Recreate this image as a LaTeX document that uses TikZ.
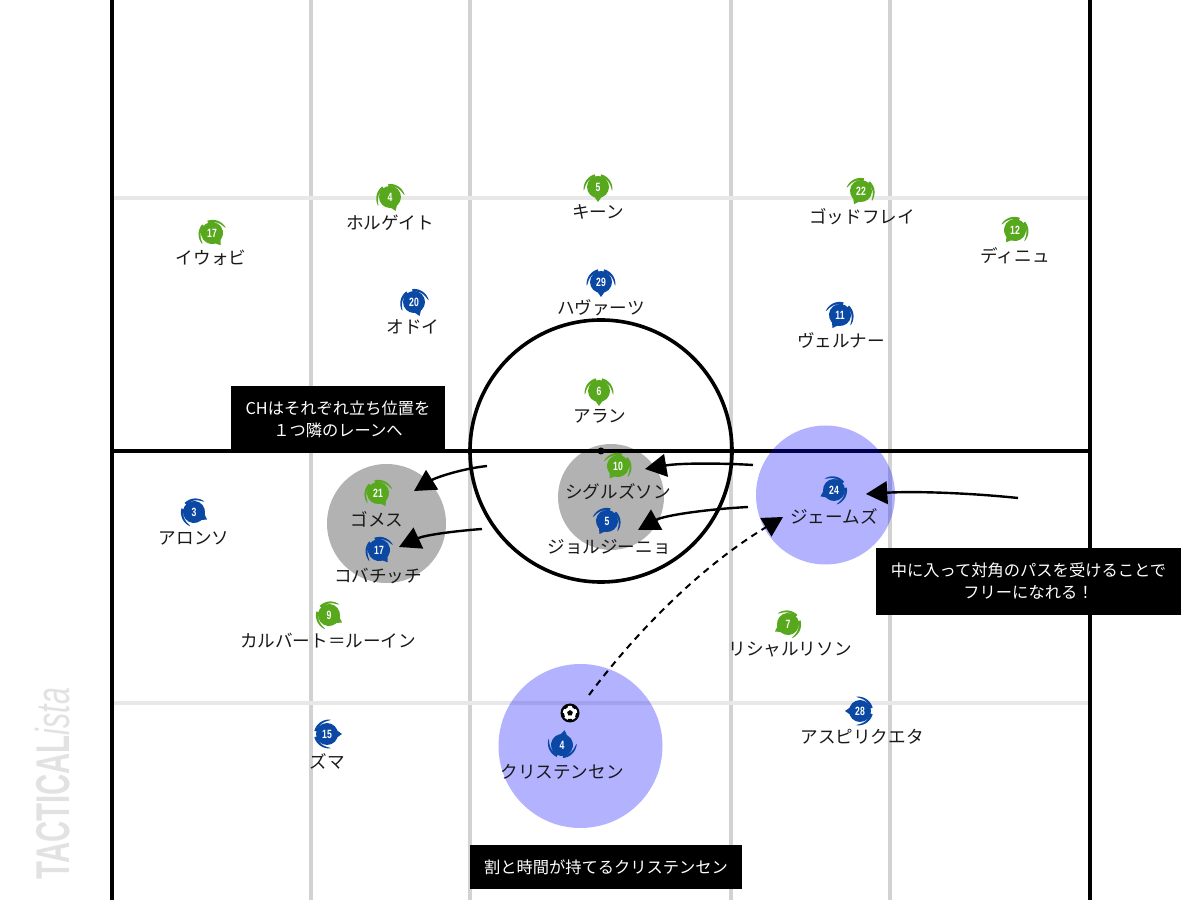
\documentclass[tikz,border=0pt]{standalone}
\usepackage{fontspec}
\setmainfont{Noto Sans CJK JP}
\newfontfamily\latfont{Liberation Sans}
\usetikzlibrary{arrows.meta}
\definecolor{grn}{HTML}{58A81E}
\definecolor{blu}{HTML}{0A48A4}
\definecolor{lane}{HTML}{D2D2D2}
\definecolor{thirdl}{HTML}{E8E8E8}
\definecolor{mark}{HTML}{E2E2E2}
\tikzset{
  x=0.75pt,y=0.75pt,
  fieldline/.style={black,line width=2.7pt},
  laneline/.style={lane,line width=3pt},
  thirdline/.style={thirdl,line width=2.4pt},
  greyzone/.style={fill=black,fill opacity=0.3},
  bluezone/.style={fill=blue,fill opacity=0.3},
  plabel/.style={font=\fontsize{13.2pt}{15pt}\selectfont,text=black!90,inner sep=0pt},
  pnum/.style={text=white,inner sep=0pt,font=\latfont\bfseries\fontsize{9pt}{10pt}\selectfont},
  note/.style={fill=black,text=white,align=center,inner sep=0pt,font=\fontsize{12.2pt}{16.5pt}\selectfont},
  runarrow/.style={black,line width=1.8pt,-{Triangle[length=16pt,width=17pt]}},
  passarrow/.style={black,line width=1.5pt,dash pattern=on 5pt off 4pt,-{Triangle[length=15pt,width=16pt]}}
}
% crescent on one side: tip at angle #1 (relative), back at angle #1 + 90*#2
\newcommand{\cres}[2]{%
  \fill plot[domain=0:1,samples=16] ({#1+#2*90*\x}:{13+1.8*(1-\x)*(1-\x)}) -- plot[domain=1:0.01,samples=16] ({#1+#2*90*\x}:{14.8-4.8*sqrt(\x)}) -- cycle;
}
\newcommand{\pl}[9]{%
  \begin{scope}[shift={(#2,{900-#3})},rotate=#6,#4]
    \cres{76}{1}
    \cres{-76}{-1}
    \fill (-20:10.5) -- (0:15) -- (20:10.5) -- cycle;
    \fill (0,0) circle[radius=11];
  \end{scope}
  \node[pnum] (n#1) at (#2,{900-#3}) {\scalebox{0.72}[1]{#5}};
  \node[plabel] (l#1) at (#7,{899-#8}) {#9};
}
\begin{document}
\begin{tikzpicture}
\useasboundingbox (0,0) rectangle (1200,900);
\fill[white] (0,0) rectangle (1200,900);
% field
\foreach \xx in {311,470,731,890} \draw[laneline] (\xx,0) -- (\xx,900);
\draw[thirdline] (112,702) -- (1090,702);
\draw[thirdline] (112,197) -- (1090,197);
\draw[fieldline] (112,449) -- (1090,449);
\draw[fieldline] (112,0) -- (112,900);
\draw[fieldline] (1090,0) -- (1090,900);
\draw[fieldline] (601,449) circle[radius=131];
\fill[black] (601,449) circle[radius=3.5];
% zones
\fill[greyzone] (386.5,376.5) circle[radius=59.5];
\fill[greyzone] (611,403) circle[radius=53];
\fill[bluezone] (825.5,405) circle[radius=69.5];
\fill[bluezone] (580.5,154) circle[radius=82];
% watermark
\node[rotate=90,anchor=west,inner sep=0pt,text=mark] (wm) at (53,20) {\latfont\fontsize{35.5pt}{36pt}\selectfont\scalebox{0.62}[1]{\bfseries TACTICAL}\scalebox{0.64}[1]{\itshape ista}};
% players
\pl{a}{212}{233}{grn}{17}{-55}{211}{257}{イウォビ}
\pl{b}{390}{197}{grn}{4}{-68}{390}{222}{ホルゲイト}
\pl{c}{598}{187}{grn}{5}{-90}{598}{211}{キーン}
\pl{d}{861}{191}{grn}{22}{-118}{862}{216}{ゴッドフレイ}
\pl{e}{1015}{230}{grn}{12}{-126}{1015}{255}{ディニュ}
\pl{f}{599}{391}{grn}{6}{-90}{600}{415}{アラン}
\pl{g}{618}{466}{grn}{10}{-124}{618}{491}{シグルズソン}
\pl{h}{378}{493}{grn}{21}{-60}{377}{518}{ゴメス}
\pl{i}{329}{615}{grn}{9}{-30}{328}{640}{カルバート＝ルーイン}
\pl{j}{788}{624}{grn}{7}{-150}{790}{649}{リシャルリソン}
\pl{k}{601}{282}{blu}{29}{-90}{601}{307}{ハヴァーツ}
\pl{m}{414}{302}{blu}{20}{-68}{413}{326}{オドイ}
\pl{o}{840}{315}{blu}{11}{-120}{841}{339}{ヴェルナー}
\pl{p}{194}{512}{blu}{3}{-30}{194}{537}{アロンソ}
\pl{q}{834}{490}{blu}{24}{-155}{834}{515}{ジェームズ}
\pl{r}{607}{521}{blu}{5}{-120}{609}{546}{ジョルジーニョ}
\pl{s}{379}{550}{blu}{17}{-55}{378}{575}{コバチッチ}
\pl{t}{327}{734}{blu}{15}{0}{327}{760}{ズマ}
\pl{u}{562}{745}{blu}{4}{80}{562}{771}{クリステンセン}
\pl{v}{860}{711}{blu}{28}{180}{862}{736}{アスピリクエタ}
% ball
\begin{scope}[shift={(570,187)}]
  \fill[black] (0,0) circle[radius=9.5];
  \fill[white] (0,0) circle[radius=7.2];
  \fill[black] (90:3) -- (162:3) -- (234:3) -- (306:3) -- (18:3) -- cycle;
  \foreach \a in {54,126,198,270,342} \fill[black] (\a-17:6.2) -- (\a+17:6.2) -- (\a+17:8) -- (\a-17:8) -- cycle;
\end{scope}
% notes
\node[note,minimum width=160.5pt,minimum height=49.5pt] (n1) at (338,481) {CHはそれぞれ立ち位置を\\１つ隣のレーンへ};
\node[note,minimum width=228.75pt,minimum height=50.25pt] (n2) at (1028.5,318.5) {中に入って対角のパスを受けることで\\フリーになれる！};
\node[note,minimum width=204pt,minimum height=33pt] (n3) at (606,33) {割と時間が持てるクリステンセン};
% arrows
\coordinate (as) at (487,434); \coordinate (ae) at (414,409);
\coordinate (bs) at (482,371); \coordinate (be) at (399,353);
\coordinate (cs) at (753,435); \coordinate (ce) at (645,431);
\coordinate (ds) at (748,393); \coordinate (de) at (638,370);
\coordinate (es) at (1018,402); \coordinate (ee) at (866,406);
\coordinate (fs) at (589,205); \coordinate (fe) at (783,383);
\draw[runarrow] (as) .. controls (460,431) and (435,422) .. (ae);
\draw[runarrow] (bs) .. controls (455,369) and (425,365) .. (be);
\draw[runarrow] (cs) .. controls (720,437) and (680,437) .. (ce);
\draw[runarrow] (ds) .. controls (710,391) and (665,385) .. (de);
\draw[runarrow] (es) .. controls (970,407) and (915,409) .. (ee);
\draw[passarrow] (fs) .. controls (630,260) and (695,330) .. (fe);
\end{tikzpicture}
\end{document}
